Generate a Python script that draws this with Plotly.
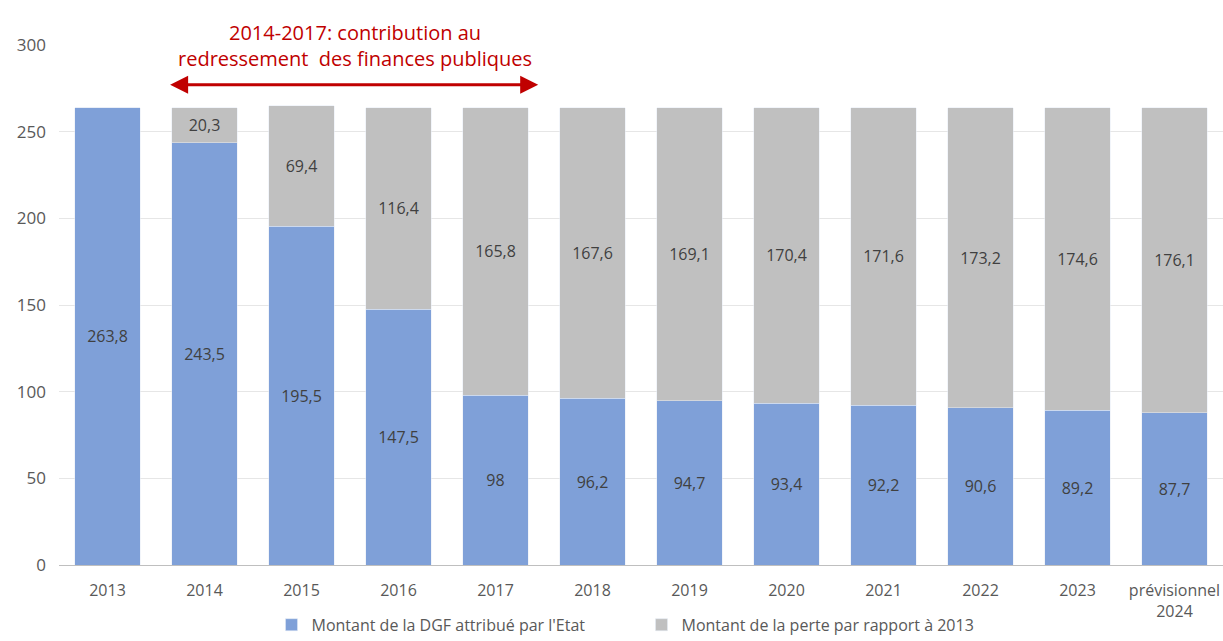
import plotly.graph_objects as go

annees = ["2013", "2014", "2015", "2016", "2017", "2018", "2019", "2020",
          "2021", "2022", "2023", "prévisionnel<br>2024"]
dgf_etat = [263.8, 243.5, 195.5, 147.5, 98, 96.2, 94.7, 93.4, 92.2, 90.6, 89.2, 87.7]
perte_2013 = [0, 20.3, 69.4, 116.4, 165.8, 167.6, 169.1, 170.4, 171.6, 173.2, 174.6, 176.1]


def fr(v):
    return ("%g" % v).replace(".", ",")


font_family = "Open Sans"
x_idx = list(range(len(annees)))

fig = go.Figure()
fig.add_trace(go.Bar(
    x=x_idx, y=dgf_etat, name="Montant de la DGF attribué par l'Etat",
    marker=dict(color="#7FA0D8"),
    text=[fr(v) for v in dgf_etat], textposition="inside",
    insidetextanchor="middle",
    textfont=dict(color="#404040", size=16, family=font_family),
))
fig.add_trace(go.Bar(
    x=x_idx, y=perte_2013, name="Montant de la perte par rapport à 2013",
    marker=dict(color="#C0C0C0"),
    text=[fr(v) if v else "" for v in perte_2013], textposition="inside",
    insidetextanchor="middle",
    textfont=dict(color="#404040", size=16, family=font_family),
))

fig.update_layout(
    barmode="stack", bargap=0.32,
    width=1223, height=641,
    margin=dict(l=59, r=0, t=45, b=76, autoexpand=False),
    plot_bgcolor="white", paper_bgcolor="white",
    font=dict(family=font_family, color="#595959", size=15),
    uniformtext=dict(minsize=10, mode="show"),
    legend=dict(orientation="h", xref="container", x=0.222, xanchor="left",
                yref="paper", y=-0.115, yanchor="middle",
                font=dict(size=16, color="#595959"), itemwidth=30,
                entrywidth=325, entrywidthmode="pixels",
                traceorder="normal"),
    xaxis=dict(tickmode="array", tickvals=x_idx, ticktext=annees,
               range=[-0.5, len(annees) - 0.5], automargin=False,
               showline=True, linecolor="#BFBFBF", linewidth=1,
               ticks="", ticklabelstandoff=11,
               tickfont=dict(size=16, color="#595959")),
    yaxis=dict(range=[0, 300], dtick=50, showgrid=True, gridcolor="#E6E6E6",
               zeroline=False, ticks="", automargin=False,
               tickfont=dict(size=17, color="#595959"),
               ticklabelstandoff=12),
)

# Période de contribution au redressement des finances publiques
fig.add_annotation(
    x=4.44, y=277, ax=0.63, ay=277, xref="x", yref="y", axref="x", ayref="y",
    text="", showarrow=True, arrowhead=2, arrowside="end+start",
    arrowsize=1.2, arrowwidth=3, arrowcolor="#C00000",
)
fig.add_annotation(
    x=2.55, xref="x", y=1.0, yref="paper", yanchor="middle",
    text="2014-2017: contribution au<br>redressement  des finances publiques",
    showarrow=False, font=dict(size=20, color="#C00000", family=font_family),
    yshift=0,
)

fig.write_html("out.html")
